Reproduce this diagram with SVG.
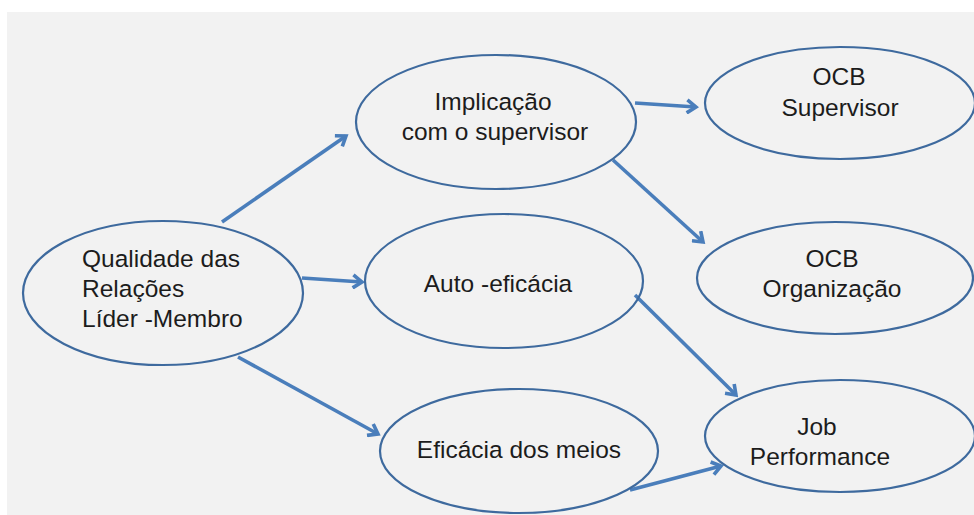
<svg xmlns="http://www.w3.org/2000/svg" width="974" height="515" viewBox="0 0 974 515">
<style>
.n ellipse{fill:none;stroke:#3e6a9e;stroke-width:2.2}
text{font-family:"Liberation Sans",Arial,sans-serif;font-size:24.5px;fill:#1c1c1c}
.c{text-anchor:middle}
.e line{stroke:#4a7ebb;stroke-width:3.6;marker-end:url(#ah)}
</style>
<defs>
<marker id="ah" viewBox="0 0 16 16" refX="13" refY="8" markerWidth="16" markerHeight="16" markerUnits="userSpaceOnUse" orient="auto">
<path d="M4,1.5 L13,8 L4,14.5" fill="none" stroke="#4a7ebb" stroke-width="3.6" stroke-linejoin="miter" stroke-miterlimit="4"/>
</marker>
</defs>
<rect x="0" y="0" width="974" height="515" fill="#ffffff"/>
<rect x="7" y="12" width="967" height="503" fill="#f2f2f2"/>
<g class="e" id="connectors">
<line x1="222" y1="222" x2="346" y2="136"/>
<line x1="302" y1="278" x2="362" y2="282"/>
<line x1="238" y1="357" x2="378" y2="434"/>
<line x1="635" y1="103" x2="696" y2="107"/>
<line x1="613" y1="160" x2="703" y2="242"/>
<line x1="635" y1="295" x2="736" y2="395"/>
<line x1="630" y1="490" x2="721" y2="466"/>
</g>
<g class="n" id="qualidade">
<ellipse cx="163" cy="293" rx="140" ry="72"/>
<text x="82" y="267">Qualidade das</text>
<text x="82" y="297">Relações</text>
<text x="82" y="327">Líder -Membro</text>
</g>
<g class="n" id="implicacao">
<ellipse cx="496" cy="122" rx="140" ry="67"/>
<text class="c" x="493" y="110">Implicação</text>
<text class="c" x="495" y="140">com o supervisor</text>
</g>
<g class="n" id="autoeficacia">
<ellipse cx="504" cy="281" rx="139" ry="67"/>
<text class="c" x="498" y="292">Auto -eficácia</text>
</g>
<g class="n" id="eficaciameios">
<ellipse cx="519" cy="451" rx="139" ry="62"/>
<text class="c" x="519" y="458">Eficácia dos meios</text>
</g>
<g class="n" id="ocbsupervisor">
<ellipse cx="840" cy="103" rx="135" ry="56"/>
<text class="c" x="839" y="85">OCB</text>
<text class="c" x="840" y="116">Supervisor</text>
</g>
<g class="n" id="ocborganizacao">
<ellipse cx="835" cy="278" rx="138" ry="56"/>
<text class="c" x="832" y="267">OCB</text>
<text class="c" x="832" y="297">Organização</text>
</g>
<g class="n" id="jobperformance">
<ellipse cx="840" cy="436" rx="135" ry="56"/>
<text class="c" x="817" y="435">Job</text>
<text class="c" x="820" y="465">Performance</text>
</g>
</svg>
